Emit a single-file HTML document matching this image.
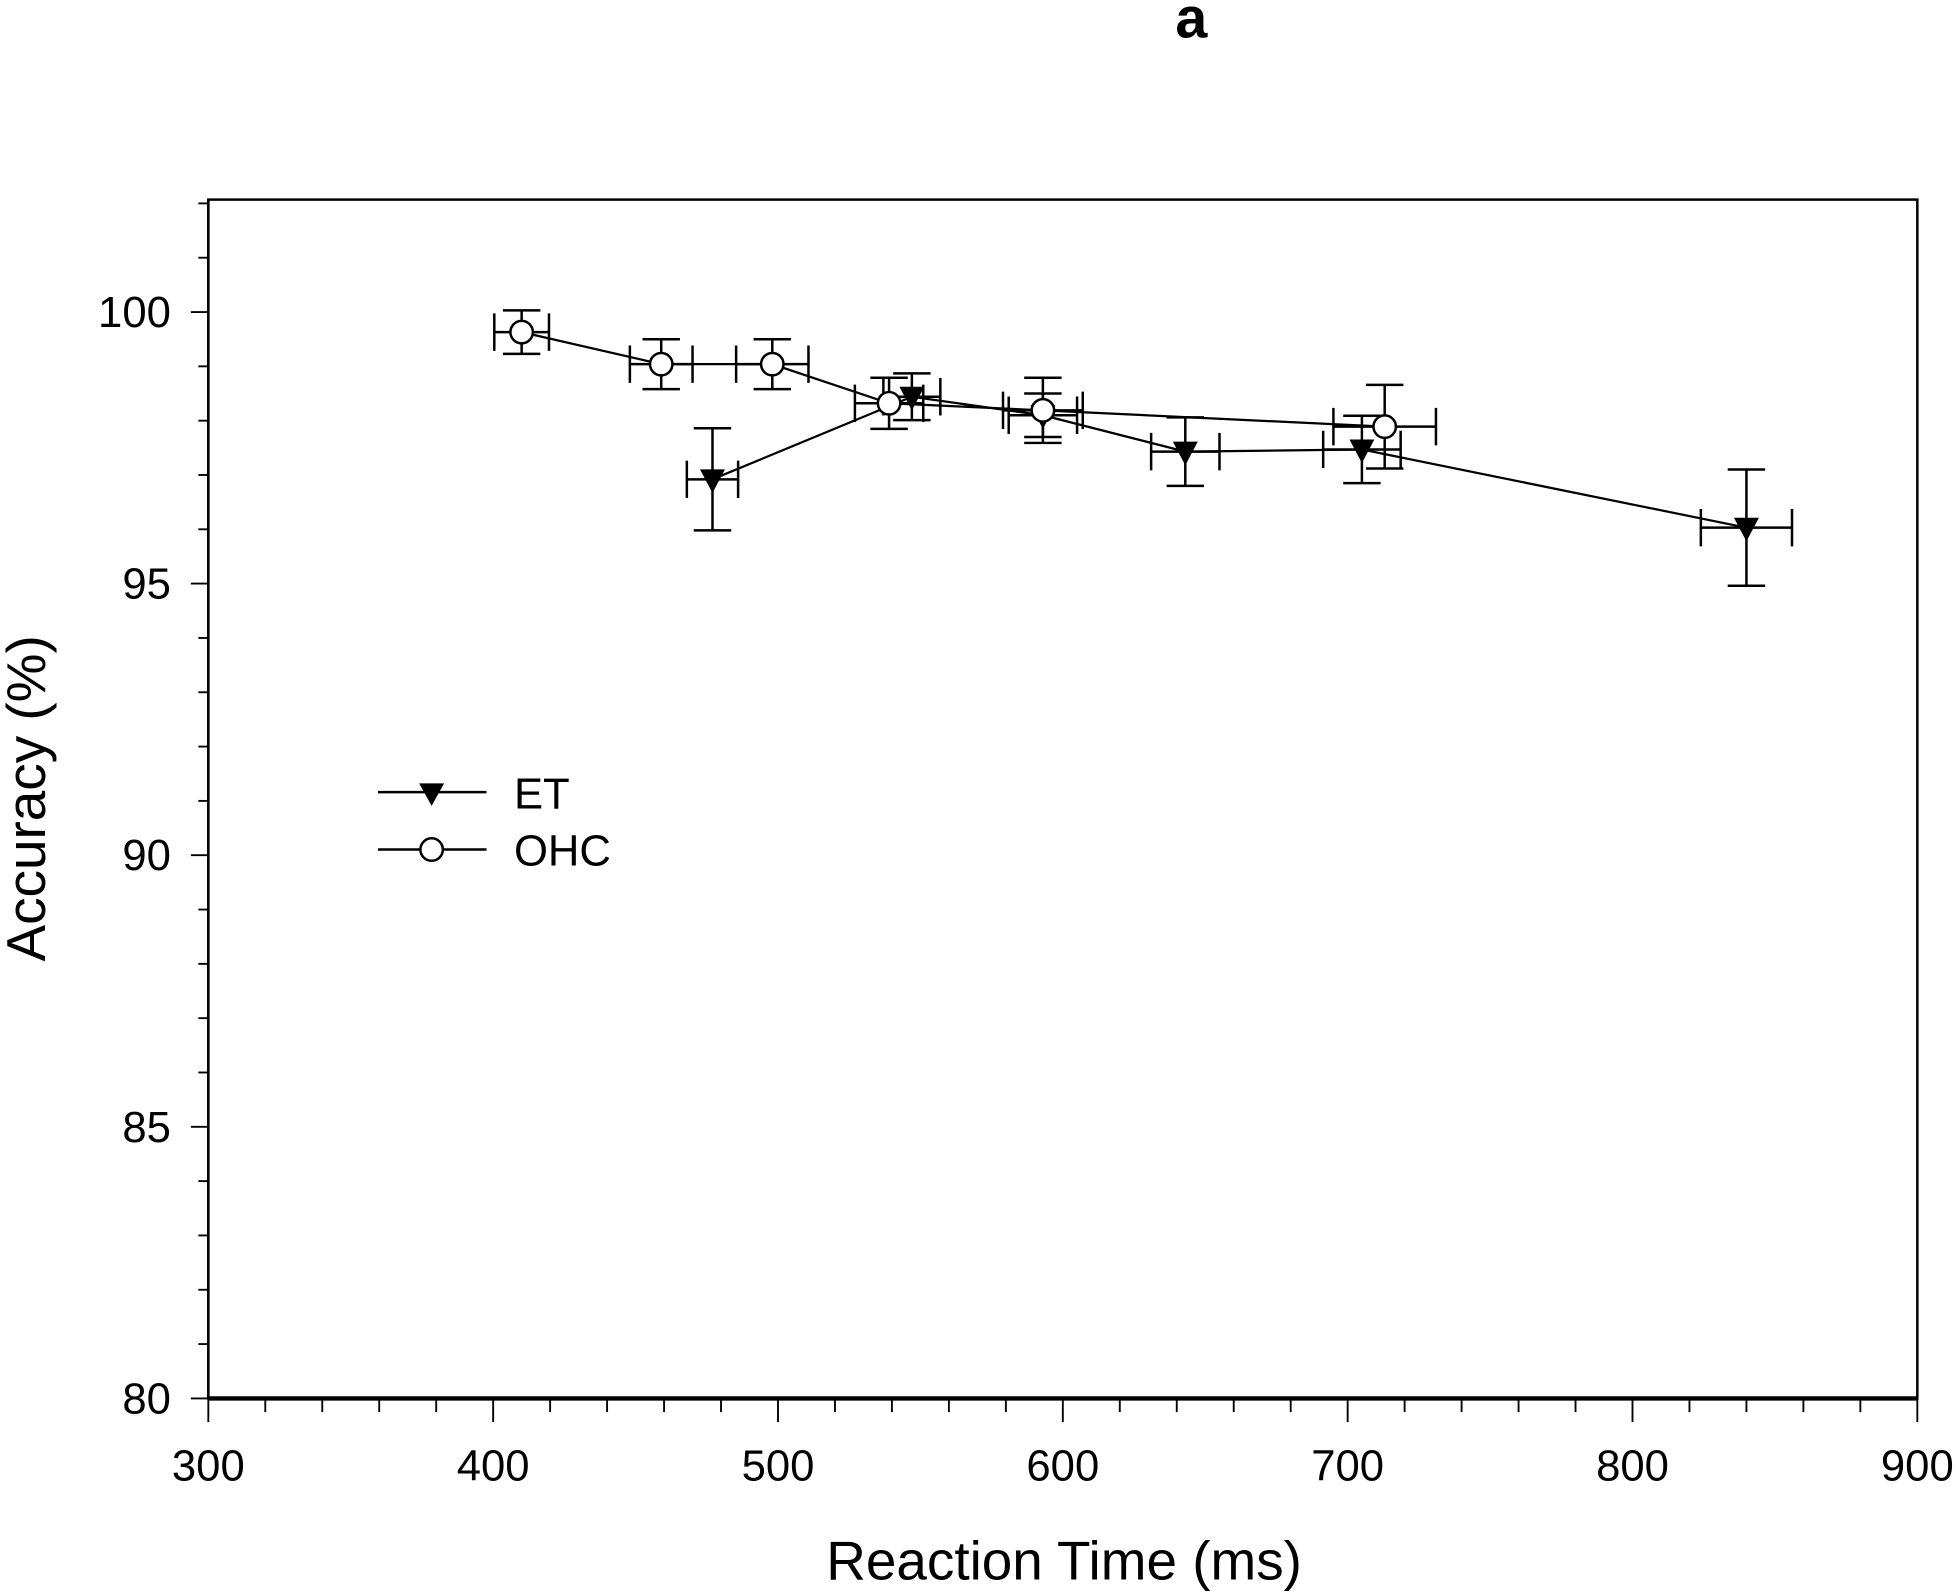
<!DOCTYPE html>
<html><head><meta charset="utf-8"><style>
html,body{margin:0;padding:0;background:#fff;}
svg{display:block;font-family:"Liberation Sans",Arial,sans-serif;}
</style></head><body>
<svg id="chart" width="1956" height="1592" viewBox="0 0 1568 1276.2" xmlns="http://www.w3.org/2000/svg">
<text x="955" y="30" font-size="46" font-weight="bold" text-anchor="middle">a</text>
<g id="axes"></g>
<g id="series"></g>
<g>
 <g>
  <line x1="303" y1="635" x2="390" y2="635" stroke="#000" stroke-width="2"/>
  <path d="M336,628 L356,628 L346,646 Z" fill="#000"/>
  <text x="412" y="648" font-size="35">ET</text>
 </g>
 <g>
  <line x1="303" y1="681" x2="390" y2="681" stroke="#000" stroke-width="2"/>
  <circle cx="346" cy="681" r="9" fill="#fff" stroke="#000" stroke-width="2"/>
  <text x="412" y="694" font-size="35">OHC</text>
 </g>
</g>
<text x="853" y="1266" font-size="44" text-anchor="middle">Reaction Time (ms)</text>
<text transform="translate(36,640) rotate(-90)" font-size="44" text-anchor="middle">Accuracy (%)</text>
</svg>
<script>
const xTicks = [300,400,500,600,700,800,900];
const yTicks = [80,85,90,95,100];
const etRT = [477,547,593,643,705,840];
const etAcc = [96.92,98.44,98.1,97.43,97.47,96.03];
const etRTErr = [9,10,12,12,13.6,16];
const etAccErr = [0.94,0.43,0.4,0.63,0.62,1.07];
const ohcRT = [410,459,498,539,593,713];
const ohcAcc = [99.63,99.04,99.04,98.32,98.19,97.89];
const ohcRTErr = [9.6,11,12.7,12,14,18];
const ohcAccErr = [0.4,0.46,0.46,0.47,0.6,0.77];

const L=167,R=1537,T=160,B=1121;
const X0=300,X1=900,Y0=80,Y1=102.07;
function sx(v){return L+(v-X0)/(X1-X0)*(R-L);}
function sy(v){return B-(v-Y0)/(Y1-Y0)*(B-T);}
const NS="http://www.w3.org/2000/svg";
function mk(tag,attrs,parent){const e=document.createElementNS(NS,tag);for(const k in attrs)e.setAttribute(k,attrs[k]);parent.appendChild(e);return e;}
const axes=document.getElementById('axes');
const frame=mk('rect',{x:L,y:T,width:R-L,height:B-T,fill:'none',stroke:'#000','stroke-width':2},axes);


const xl=mk('line',{x1:L,y1:B,x2:R,y2:B,stroke:'#000','stroke-width':3.5},axes);


const yl=mk('line',{x1:L,y1:T,x2:L,y2:B,stroke:'#000','stroke-width':2},axes);


for(let v=300;v<=900;v+=20){
  const major=(v%100===0);
  const t=mk('line',{x1:sx(v),y1:B,x2:sx(v),y2:B+(major?19:11),stroke:'#000','stroke-width':1.5},axes);
  
  
}
xTicks.forEach(v=>{
  const t=mk('text',{x:sx(v),y:B+66,'font-size':35,'text-anchor':'middle'},axes);
  t.textContent=v;
  
  
});
for(let v=80;v<=102;v+=1){
  const major=(v%5===0);
  const t=mk('line',{x1:L-(major?14:8),y1:sy(v),x2:L,y2:sy(v),stroke:'#000','stroke-width':1.5},axes);
  
  
}
yTicks.forEach(v=>{
  const t=mk('text',{x:L-30,y:sy(v)+12,'font-size':35,'text-anchor':'end'},axes);
  t.textContent=v;
  
  
});
const series=document.getElementById('series');
function draw(name,xs,ys,xe,ye,marker){
  const g=mk('g',{},series);
  
  
  const pl=mk('polyline',{points:xs.map((x,i)=>sx(x)+','+sy(ys[i])).join(' '),fill:'none',stroke:'#000','stroke-width':1.8},g);
  
  
  xs.forEach((x,i)=>{
    const cx=sx(x),cy=sy(ys[i]);
    const y1=sy(ys[i]+ye[i]),y2=sy(ys[i]-ye[i]);
    const x1=sx(x-xe[i]),x2=sx(x+xe[i]);
    const eb=mk('path',{d:`M${cx},${y1}V${y2}M${cx-15},${y1}H${cx+15}M${cx-15},${y2}H${cx+15}M${x1},${cy}H${x2}M${x1},${cy-15}V${cy+15}M${x2},${cy-15}V${cy+15}`,stroke:'#000','stroke-width':2,fill:'none'},g);
    
    
    let m;
    if(marker==='tri'){m=mk('path',{d:`M${cx-10},${cy-8}L${cx+10},${cy-8}L${cx},${cy+11}Z`,fill:'#000'},g);}
    else{m=mk('circle',{cx:cx,cy:cy,r:9,fill:'#fff',stroke:'#000','stroke-width':2},g);}
    
    
  });
}
draw('et',etRT,etAcc,etRTErr,etAccErr,'tri');
draw('ohc',ohcRT,ohcAcc,ohcRTErr,ohcAccErr,'circ');
</script>
</body></html>
